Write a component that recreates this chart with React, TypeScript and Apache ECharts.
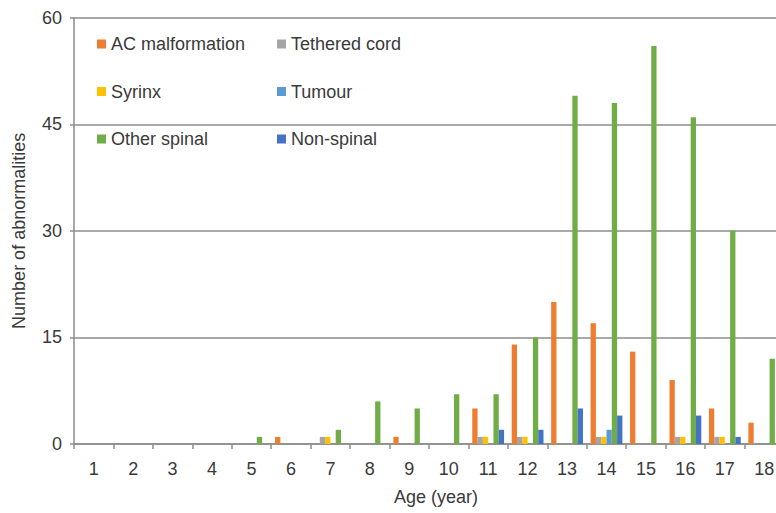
import React, { useEffect, useRef } from "react";
import * as echarts from "echarts";

const categories = ["1", "2", "3", "4", "5", "6", "7", "8", "9", "10", "11", "12", "13", "14", "15", "16", "17", "18"];
const acMalformation = [0, 0, 0, 0, 0, 1, 0, 0, 1, 0, 5, 14, 20, 17, 13, 9, 5, 3];
const tetheredCord = [0, 0, 0, 0, 0, 0, 1, 0, 0, 0, 1, 1, 0, 1, 0, 1, 1, 0];
const syrinx = [0, 0, 0, 0, 0, 0, 1, 0, 0, 0, 1, 1, 0, 1, 0, 1, 1, 0];
const tumour = [0, 0, 0, 0, 0, 0, 0, 0, 0, 0, 0, 0, 0, 2, 0, 0, 0, 0];
const otherSpinal = [0, 0, 0, 0, 1, 0, 2, 6, 5, 7, 7, 15, 49, 48, 56, 46, 30, 12];
const nonSpinal = [0, 0, 0, 0, 0, 0, 0, 0, 0, 0, 2, 2, 5, 4, 0, 4, 1, 0];
const yTicks = [0, 15, 30, 45, 60];

const seriesNames = ["AC malformation", "Tethered cord", "Syrinx", "Tumour", "Other spinal", "Non-spinal"];
const seriesData = [acMalformation, tetheredCord, syrinx, tumour, otherSpinal, nonSpinal];
const colors = ["#ED7D31", "#A5A5A5", "#FFC000", "#5B9BD5", "#70AD47", "#4472C4"];

const FONT = "Liberation Sans";
const TEXT = "#3a3a3a";
const AXIS = "#8c8c8c";

export default function App() {
  const ref = useRef<HTMLDivElement>(null);
  useEffect(() => {
    if (!ref.current) return;
    const chart = echarts.init(ref.current, null, { renderer: "svg" });
    const legendBase = {
      orient: "vertical" as const,
      top: 35,
      padding: 0,
      itemWidth: 9,
      itemHeight: 9,
      itemGap: 29.5,
      icon: "rect",
      textStyle: { fontFamily: FONT, fontSize: 18, color: TEXT, lineHeight: 18 },
    };
    chart.setOption({
      animation: false,
      color: colors,
      textStyle: { fontFamily: FONT },
      legend: [
        { ...legendBase, left: 97, data: [seriesNames[0], seriesNames[2], seriesNames[4]] },
        { ...legendBase, left: 277, data: [seriesNames[1], seriesNames[3], seriesNames[5]] },
      ],
      grid: { left: 74, width: 710, top: 17.7, bottom: 69, outerBoundsMode: "none", containLabel: false },
      xAxis: {
        type: "category",
        data: categories,
        boundaryGap: true,
        name: "Age (year)",
        nameLocation: "middle",
        nameGap: 44,
        nameTextStyle: { fontFamily: FONT, fontSize: 18, color: TEXT, padding: [0, 0, 0, 14] },
        axisLine: { show: true, lineStyle: { color: AXIS, width: 1.5 } },
        axisTick: { show: true, interval: 0, length: 5, lineStyle: { color: AXIS, width: 1.5 } },
        axisLabel: { interval: 0, margin: 16, fontFamily: FONT, fontSize: 18, color: TEXT },
      },
      yAxis: {
        type: "value",
        min: yTicks[0],
        max: yTicks[yTicks.length - 1],
        interval: 15,
        name: "Number of abnormalities",
        nameLocation: "middle",
        nameGap: 46,
        nameTextStyle: { fontFamily: FONT, fontSize: 18, color: TEXT },
        axisLine: { show: true, lineStyle: { color: AXIS, width: 1.5 } },
        axisTick: { show: true, length: 4, lineStyle: { color: AXIS, width: 1.5 } },
        axisLabel: { margin: 12, fontFamily: FONT, fontSize: 18, color: TEXT },
        splitLine: { show: true, lineStyle: { color: AXIS, width: 1.5 } },
      },
      series: seriesNames.map((name, i) => ({
        name,
        type: "bar",
        data: seriesData[i],
        barWidth: 5.3,
        barGap: "0%",
        itemStyle: { color: colors[i] },
      })),
    });
    return () => chart.dispose();
  }, []);
  return (
    <div
      ref={ref}
      style={{ position: "absolute", left: 0, top: 0, width: 776, height: 513 }}
    />
  );
}
